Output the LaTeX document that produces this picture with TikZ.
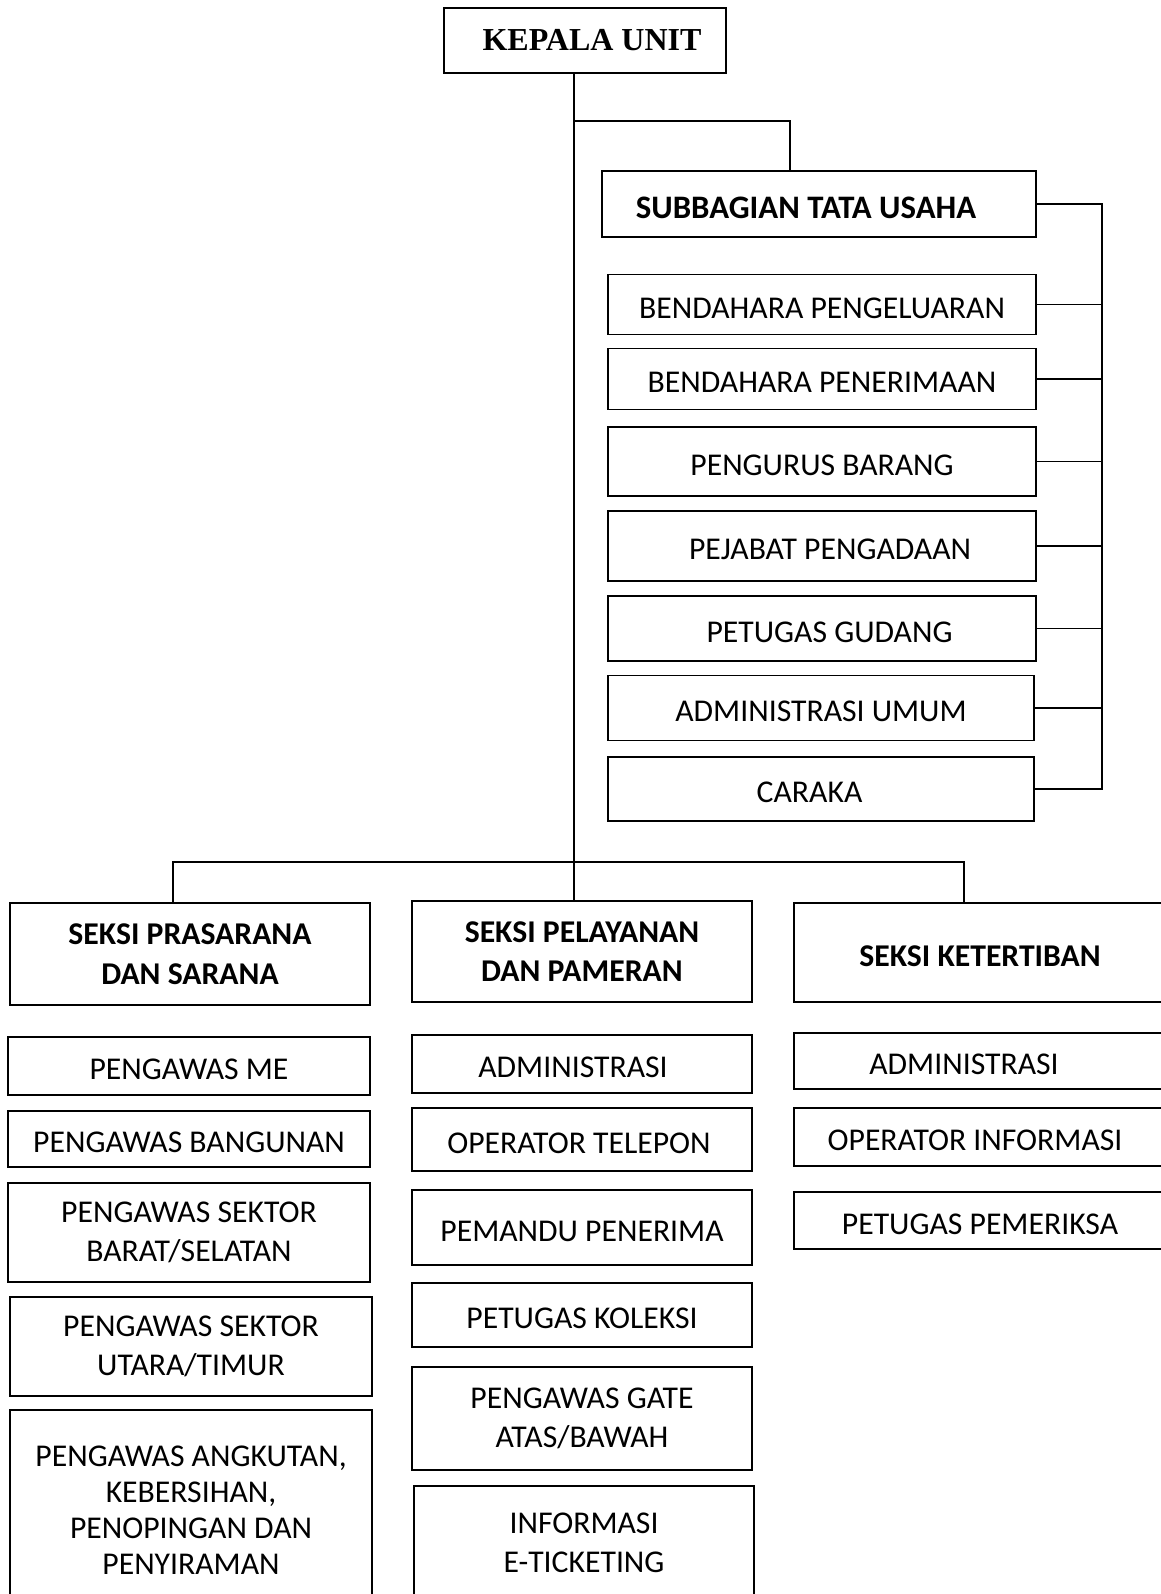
\documentclass[tikz,border=0pt]{standalone}
\usepackage{fontspec}
\setmainfont{Carlito}
\newfontfamily\kepalafont{Liberation Serif}
\usetikzlibrary{positioning}

\begin{document}
\begin{tikzpicture}[x=1pt, y=-1pt,
				   every node/.style={draw=black, line width=1.8pt, inner sep=0pt, align=center, font=\fontsize{31.7}{39.5}\selectfont},
				   head/.style={font=\fontsize{31.7}{39.5}\selectfont\bfseries},
				   one/.style={text height=27pt, text depth=0pt},
				   nudge/.style={execute at begin node={\hspace*{#1pt}}},
				   rcol/.style={one, minimum width=428},
				   lcol/.style={minimum width=362},
				   mcol/.style={minimum width=340},
				   kcol/.style={one, minimum width=372},
				   line/.style={line width=1.8pt}]
\useasboundingbox (0,0) rectangle (1160,1594);
\node[font=\fontsize{32}{38}\selectfont\kepalafont\bfseries, nudge=14, minimum width=282, minimum height=65] (kepala) at (585,40.5) {KEPALA UNIT};
\node[font=\fontsize{32.8}{39.5}\selectfont\bfseries, text height=30pt, text depth=0pt, nudge=-26, minimum width=434, minimum height=66] (subbag) at (819,204) {SUBBAGIAN TATA USAHA};
\node[rcol, minimum height=60] (bpk) at (822,304.5) {BENDAHARA PENGELUARAN};
\node[rcol, minimum height=61] (bpn) at (822,379) {BENDAHARA PENERIMAAN};
\node[rcol, minimum height=69] (pb) at (822,461.5) {PENGURUS BARANG};
\node[rcol, nudge=16, minimum height=69.5] (pp) at (822,546) {PEJABAT PENGADAAN};
\node[rcol, nudge=15, minimum height=65] (pg) at (822,628.5) {PETUGAS GUDANG};
\node[one, minimum width=426, minimum height=65] (au) at (821,708) {ADMINISTRASI UMUM};
\node[one, nudge=-23, minimum width=426, minimum height=64.5] (caraka) at (821,789) {CARAKA};

\node[head, minimum width=360, minimum height=101.5] (pras) at (190,954) {SEKSI PRASARANA\\DAN SARANA};
\node[lcol, one, minimum height=58] (me) at (189,1066) {PENGAWAS ME};
\node[lcol, one, minimum height=56] (bang) at (189,1139) {PENGAWAS BANGUNAN};
\node[lcol, minimum height=99] (brt) at (189,1232.5) {PENGAWAS SEKTOR\\BARAT/SELATAN};
\node[lcol, minimum height=99] (utr) at (191,1346.5) {PENGAWAS SEKTOR\\UTARA/TIMUR};
\node[lcol, minimum height=200, font=\fontsize{31.7}{36}\selectfont] (ang) at (191,1510) {PENGAWAS ANGKUTAN,\\KEBERSIHAN,\\PENOPINGAN DAN\\PENYIRAMAN};

\node[head, mcol, minimum height=101] (pel) at (582,951.5) {SEKSI PELAYANAN\\DAN PAMERAN};
\node[mcol, one, nudge=-18, minimum height=58] (adm1) at (582,1064) {ADMINISTRASI};
\node[mcol, one, nudge=-6, minimum height=63] (tel) at (582,1139.5) {OPERATOR TELEPON};
\node[mcol, one, minimum height=75] (pmd) at (582,1227.5) {PEMANDU PENERIMA};
\node[mcol, one, minimum height=64] (kol) at (582,1315) {PETUGAS KOLEKSI};
\node[mcol, minimum height=103] (gate) at (582,1418.5) {PENGAWAS GATE\\ATAS/BAWAH};
\node[mcol, minimum height=114] (etk) at (584,1543) {INFORMASI\\E-TICKETING};

\node[head, kcol, minimum height=99] (ket) at (980,952.5) {SEKSI KETERTIBAN};
\node[kcol, nudge=-32, minimum height=56] (adm2) at (980,1061) {ADMINISTRASI};
\node[kcol, nudge=-10, minimum height=58] (opi) at (980,1137) {OPERATOR INFORMASI};
\node[kcol, minimum height=57] (pem) at (980,1220.5) {PETUGAS PEMERIKSA};

\coordinate (trunk) at (574,0);
\coordinate (tu) at (790,121);
\coordinate (rail) at (1102,0);
\coordinate (lft) at (173,862);
\coordinate (rgt) at (964,862);
\draw[line] (kepala.south -| trunk) -- (pel.north -| trunk);
\draw[line] (tu -| trunk) -- (tu) -- (subbag.north -| tu);
\draw[line] (subbag.east) -- (subbag.east -| rail) -- (caraka.east -| rail) -- (caraka.east);
\foreach \n in {bpk,bpn,pb,pp,pg,au}
	\draw[line] (\n.east) -- (\n.east -| rail);
\draw[line] (pras.north -| lft) -- (lft) -- (rgt) -- (ket.north -| rgt);
\end{tikzpicture}
\end{document}
